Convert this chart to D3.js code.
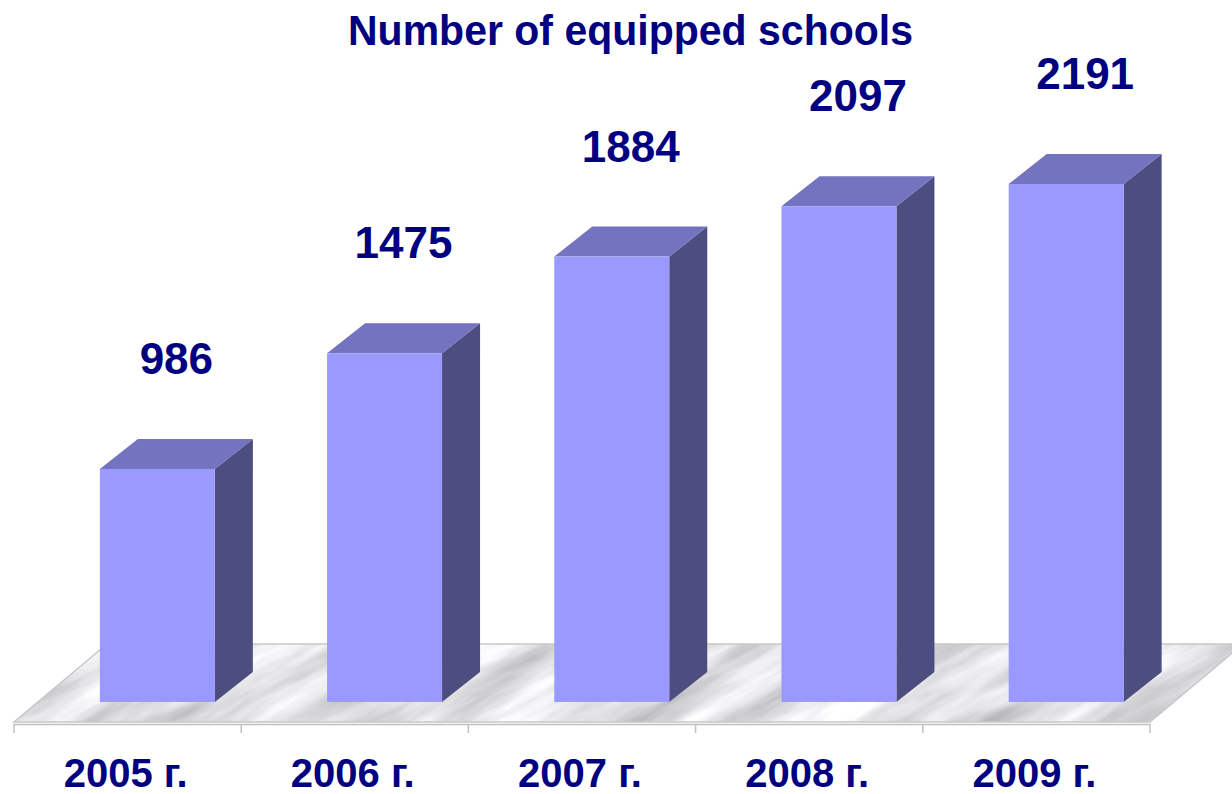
<!DOCTYPE html>
<html lang="en">
<head>
  <meta charset="UTF-8">
  <title>Number of equipped schools</title>
  <style>
    body { margin: 0; background: #fff; }
    svg { display: block; }
    .lbl { font-family: "Liberation Sans", Arial, sans-serif; font-weight: bold; fill: #000080; }
  </style>
</head>
<body>
<svg id="chart" width="1232" height="794"></svg>

<script src="https://d3js.org/d3.v7.min.js"></script>
<script>
  // data
  const years = ['2005 г.', '2006 г.', '2007 г.', '2008 г.', '2009 г.'];
  const schools = [986, 1475, 1884, 2097, 2191];
  const title = 'Number of equipped schools';

  const svg = d3.select('#chart');

  // 3d depth of bars and floor
  const dx = 38, dy = -30;
  const floorFront = 722, floorDx = 93, floorDy = -78;
  const barBase = 702;

  const x = d3.scaleBand().domain(years).range([14, 1150]).padding(0);
  const y = d3.scaleLinear().domain([0, 2200]).range([barBase, barBase - 2200 * 0.2364]);

  const barW = x.bandwidth() * 0.506;
  const barX = d => x(d) + x.bandwidth() * 0.378;

  // marble floor
  const defs = svg.append('defs');
  const f = defs.append('filter').attr('id', 'marble')
    .attr('x', 0).attr('y', 0).attr('width', 1).attr('height', 1);
  f.append('feTurbulence').attr('type', 'fractalNoise')
    .attr('baseFrequency', '0.007 0.04').attr('numOctaves', 4).attr('seed', 7);
  f.append('feColorMatrix').attr('type', 'matrix')
    .attr('values', '0.8 0 0 0 0.38  0.8 0 0 0 0.38  0.8 0 0 0 0.4  0 0 0 0 1');

  const floorPts = [
    [14, floorFront], [1150, floorFront],
    [1150 + floorDx, floorFront + floorDy], [14 + floorDx, floorFront + floorDy]
  ];
  defs.append('clipPath').attr('id', 'floorClip')
    .append('polygon').attr('points', floorPts.map(p => p.join(',')).join(' '));

  svg.append('g').attr('clip-path', 'url(#floorClip)')
    .append('rect')
    .attr('x', -200).attr('y', 300).attr('width', 1700).attr('height', 700)
    .attr('filter', 'url(#marble)')
    .attr('transform', 'rotate(-28 640 683)');

  svg.append('polygon')
    .attr('points', floorPts.map(p => p.join(',')).join(' '))
    .attr('fill', 'none').attr('stroke', '#c8c8c8').attr('stroke-width', 1.5);

  // category axis
  const axis = svg.append('g');
  axis.append('line')
    .attr('x1', 14).attr('x2', 1150).attr('y1', 724.5).attr('y2', 724.5)
    .attr('stroke', '#c0c0c0').attr('stroke-width', 1.5);
  axis.selectAll('.tick')
    .data(years.concat(['end']))
    .enter().append('line')
    .attr('x1', (d, i) => i < years.length ? x(d) : 1150)
    .attr('x2', (d, i) => i < years.length ? x(d) : 1150)
    .attr('y1', 724).attr('y2', 733)
    .attr('stroke', '#c0c0c0').attr('stroke-width', 1.5);

  axis.selectAll('.cat')
    .data(years)
    .enter().append('text')
    .attr('class', 'lbl')
    .attr('x', d => x(d) + x.bandwidth() / 2 - 2)
    .attr('y', 787)
    .attr('text-anchor', 'middle')
    .style('font-size', '40px')
    .text(d => d);

  // bars
  const bars = svg.selectAll('.bar')
    .data(years.map((c, i) => ({ c, v: schools[i] })))
    .enter().append('g').attr('class', 'bar');

  // side face
  bars.append('polygon')
    .attr('fill', '#4d4d80')
    .attr('points', d => {
      const x1 = barX(d.c) + barW, t = y(d.v);
      return [[x1, t], [x1 + dx, t + dy], [x1 + dx, barBase + dy], [x1, barBase]].map(p => p.join(',')).join(' ');
    });

  // top face
  bars.append('polygon')
    .attr('fill', '#7373bf')
    .attr('points', d => {
      const x0 = barX(d.c), t = y(d.v);
      return [[x0, t], [x0 + dx, t + dy], [x0 + barW + dx, t + dy], [x0 + barW, t]].map(p => p.join(',')).join(' ');
    });

  // front face
  bars.append('rect')
    .attr('fill', '#9999ff')
    .attr('x', d => barX(d.c))
    .attr('y', d => y(d.v))
    .attr('width', barW)
    .attr('height', d => barBase - y(d.v));

  // value labels
  bars.append('text')
    .attr('class', 'lbl')
    .attr('x', d => barX(d.c) + barW / 2 + dx / 2)
    .attr('y', d => y(d.v) + dy - 65)
    .attr('text-anchor', 'middle')
    .style('font-size', '44px')
    .text(d => d.v);

  // title
  svg.append('text')
    .attr('class', 'lbl')
    .attr('x', 348)
    .attr('y', 45)
    .attr('textLength', 565)
    .attr('lengthAdjust', 'spacingAndGlyphs')
    .style('font-size', '43px')
    .text(title);
</script>
</body>
</html>
